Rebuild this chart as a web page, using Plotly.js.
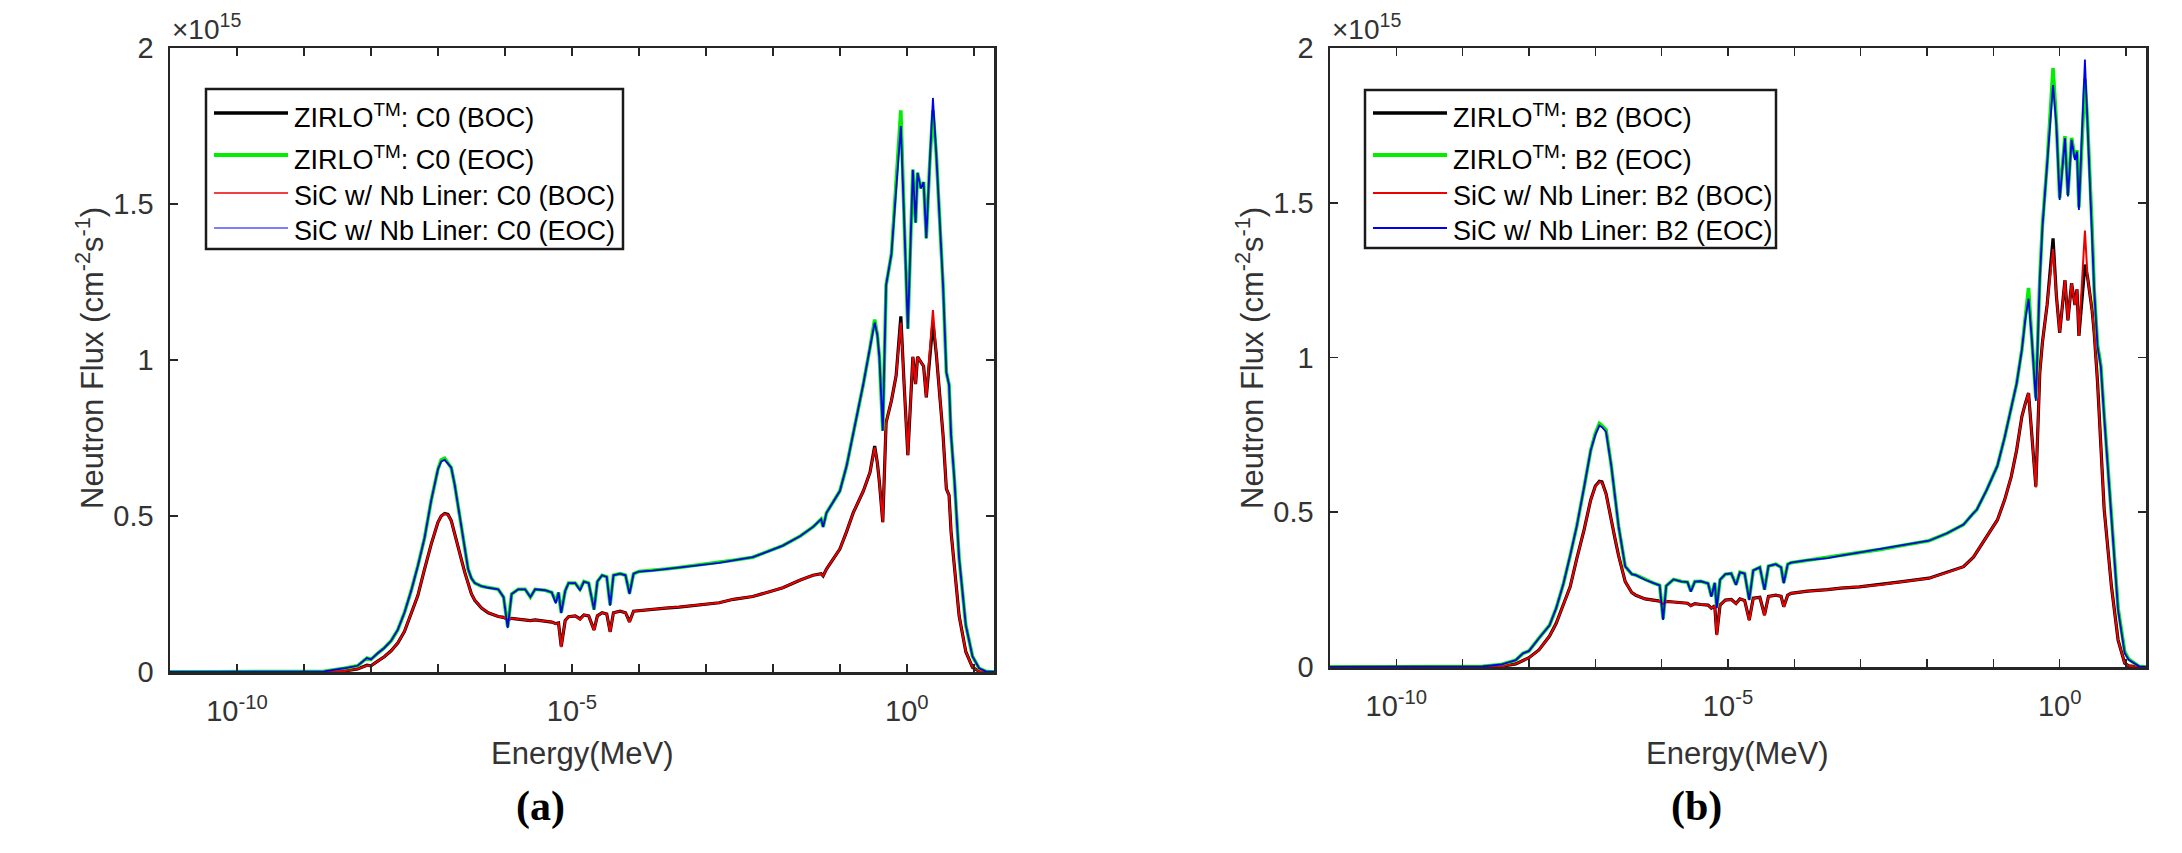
<!DOCTYPE html>
<html>
<head>
<meta charset="utf-8">
<script src="https://cdn.plot.ly/plotly-3.0.1.min.js"></script>
<style>
  html, body { margin: 0; padding: 0; background: #fff; }
  #chart { width: 2182px; height: 853px; }
</style>
</head>
<body>
<div id="chart"></div>
<script>
// Neutron flux spectra, ZIRLO vs SiC cladding with Nb liner, BOC and EOC.
// Flux values are in units of 1e15 cm^-2 s^-1, energies in MeV.

// ---------- Panel (a): assembly C0 ----------
const energyC0 = [
  1e-11, 3.16e-10, 1e-9, 2.0e-9, 3.98e-9, 5.01e-9, 6.31e-9, 8.71e-9, 1.0e-8, 1.26e-8,
  1.58e-8, 2.0e-8, 2.51e-8, 3.16e-8, 3.98e-8, 5.01e-8, 6.31e-8, 7.94e-8, 1.0e-7, 1.12e-7,
  1.26e-7, 1.41e-7, 1.58e-7, 1.78e-7, 2.0e-7, 2.24e-7, 2.51e-7, 2.82e-7, 3.16e-7, 3.55e-7,
  4.47e-7, 5.62e-7, 7.94e-7, 9.55e-7, 1.10e-6, 1.26e-6, 1.58e-6, 2.0e-6, 2.40e-6, 2.82e-6,
  3.98e-6, 5.01e-6, 5.75e-6, 6.31e-6, 6.92e-6, 7.94e-6, 8.91e-6, 1.12e-5, 1.32e-5, 1.51e-5,
  1.78e-5, 2.14e-5, 2.40e-5, 2.82e-5, 3.31e-5, 3.72e-5, 4.17e-5, 5.25e-5, 6.31e-5, 7.24e-5,
  8.32e-5, 1.0e-4, 1.58e-4, 2.51e-4, 3.98e-4, 6.31e-4, 8.71e-4, 1.58e-3, 2.57e-3, 5.01e-3,
  8.13e-3, 1.41e-2, 2.57e-2, 3.98e-2, 5.25e-2, 5.62e-2, 6.31e-2, 0.1, 0.126, 0.158,
  0.224, 0.282, 0.331, 0.363, 0.389, 0.437, 0.490, 0.589, 0.692, 0.813,
  0.912, 1.035, 1.23, 1.35, 1.445, 1.62, 1.78, 1.95, 2.19, 2.45,
  2.75, 3.09, 3.47, 3.89, 4.27, 4.57, 5.13, 6.03, 7.59, 9.55,
  12.0, 15.1, 20.0
];
const zirloBocC0 = [
  0, 0, 0, 0, 0.003, 0.006, 0.01, 0.022, 0.02, 0.035,
  0.049, 0.068, 0.093, 0.13, 0.185, 0.245, 0.33, 0.41, 0.48, 0.50,
  0.508, 0.505, 0.485, 0.445, 0.40, 0.36, 0.32, 0.28, 0.25, 0.23,
  0.205, 0.19, 0.178, 0.175, 0.168, 0.172, 0.17, 0.168, 0.165, 0.167,
  0.163, 0.16, 0.155, 0.157, 0.082, 0.165, 0.177, 0.18, 0.17, 0.183,
  0.18, 0.135, 0.18, 0.19, 0.186, 0.129, 0.19, 0.195, 0.19, 0.161,
  0.195, 0.197, 0.20, 0.205, 0.208, 0.212, 0.215, 0.222, 0.233, 0.242,
  0.255, 0.27, 0.295, 0.31, 0.315, 0.308, 0.33, 0.394, 0.45, 0.51,
  0.58, 0.64, 0.724, 0.67, 0.609, 0.48, 0.80, 0.87, 0.95, 1.14,
  0.92, 0.695, 1.01, 0.923, 1.01, 0.994, 0.98, 0.88, 1.01, 1.12,
  1.02, 0.90, 0.76, 0.587, 0.566, 0.45, 0.337, 0.18, 0.065, 0.015,
  0.002, 0, 0
];
const zirloEocC0 = [
  0, 0, 0, 0.002, 0.012, 0.016, 0.02, 0.045, 0.04, 0.06,
  0.077, 0.10, 0.135, 0.19, 0.26, 0.34, 0.43, 0.55, 0.65, 0.68,
  0.685, 0.67, 0.655, 0.60, 0.53, 0.46, 0.39, 0.33, 0.30, 0.285,
  0.275, 0.27, 0.265, 0.24, 0.145, 0.25, 0.265, 0.265, 0.24, 0.265,
  0.262, 0.255, 0.225, 0.255, 0.19, 0.26, 0.285, 0.285, 0.265, 0.29,
  0.285, 0.20, 0.29, 0.31, 0.305, 0.215, 0.31, 0.315, 0.31, 0.252,
  0.315, 0.322, 0.325, 0.33, 0.335, 0.34, 0.345, 0.35, 0.358, 0.368,
  0.385, 0.405, 0.436, 0.465, 0.49, 0.465, 0.51, 0.58, 0.66, 0.76,
  0.923, 1.04, 1.13, 1.08, 1.01, 0.773, 1.24, 1.34, 1.553, 1.80,
  1.45, 1.10, 1.61, 1.44, 1.60, 1.55, 1.57, 1.39, 1.625, 1.80,
  1.66, 1.45, 1.24, 0.96, 0.92, 0.76, 0.616, 0.365, 0.15, 0.05,
  0.012, 0.002, 0
];
const sicBocC0 = [
  0, 0, 0, 0, 0.003, 0.006, 0.01, 0.021, 0.02, 0.035,
  0.049, 0.068, 0.093, 0.13, 0.185, 0.245, 0.33, 0.41, 0.48, 0.50,
  0.507, 0.504, 0.485, 0.445, 0.40, 0.36, 0.32, 0.28, 0.25, 0.23,
  0.205, 0.19, 0.178, 0.175, 0.166, 0.172, 0.17, 0.168, 0.164, 0.167,
  0.163, 0.16, 0.154, 0.157, 0.08, 0.165, 0.177, 0.18, 0.168, 0.183,
  0.18, 0.134, 0.18, 0.19, 0.186, 0.128, 0.19, 0.195, 0.19, 0.16,
  0.195, 0.197, 0.20, 0.205, 0.208, 0.212, 0.215, 0.222, 0.233, 0.242,
  0.255, 0.27, 0.295, 0.31, 0.315, 0.308, 0.33, 0.394, 0.45, 0.51,
  0.58, 0.64, 0.72, 0.67, 0.609, 0.48, 0.80, 0.87, 0.95, 1.12,
  0.92, 0.695, 1.01, 0.923, 1.01, 0.994, 0.98, 0.88, 1.01, 1.16,
  1.02, 0.90, 0.76, 0.587, 0.566, 0.45, 0.337, 0.18, 0.065, 0.015,
  0.002, 0, 0
];
const sicEocC0 = [
  0, 0, 0, 0.002, 0.012, 0.016, 0.02, 0.045, 0.04, 0.06,
  0.077, 0.10, 0.135, 0.19, 0.26, 0.34, 0.43, 0.55, 0.65, 0.675,
  0.68, 0.668, 0.655, 0.60, 0.53, 0.46, 0.39, 0.33, 0.30, 0.285,
  0.275, 0.27, 0.265, 0.24, 0.141, 0.25, 0.265, 0.265, 0.24, 0.265,
  0.262, 0.255, 0.22, 0.255, 0.189, 0.26, 0.285, 0.285, 0.262, 0.29,
  0.285, 0.20, 0.29, 0.31, 0.305, 0.213, 0.31, 0.315, 0.31, 0.25,
  0.315, 0.322, 0.325, 0.33, 0.335, 0.34, 0.345, 0.35, 0.358, 0.368,
  0.385, 0.405, 0.436, 0.465, 0.49, 0.465, 0.51, 0.58, 0.66, 0.76,
  0.923, 1.04, 1.12, 1.08, 1.01, 0.773, 1.24, 1.34, 1.553, 1.75,
  1.45, 1.10, 1.61, 1.44, 1.60, 1.55, 1.57, 1.39, 1.625, 1.84,
  1.66, 1.45, 1.24, 0.96, 0.92, 0.76, 0.616, 0.365, 0.15, 0.05,
  0.012, 0.002, 0
];

// ---------- Panel (b): assembly B2 ----------
const energyB2 = [
  1e-11, 3.16e-10, 9.12e-10, 2.0e-9, 3.80e-9, 6.31e-9, 8.13e-9, 1.0e-8, 1.41e-8, 2.04e-8,
  2.57e-8, 3.31e-8, 4.17e-8, 5.25e-8, 6.76e-8, 8.51e-8, 1.0e-7, 1.15e-7, 1.26e-7, 1.45e-7,
  1.74e-7, 2.0e-7, 2.24e-7, 2.82e-7, 3.55e-7, 4.07e-7, 5.62e-7, 7.41e-7, 9.33e-7, 1.05e-6,
  1.17e-6, 1.51e-6, 2.0e-6, 2.45e-6, 2.75e-6, 3.16e-6, 3.89e-6, 5.01e-6, 5.62e-6, 6.31e-6,
  6.76e-6, 7.59e-6, 9.12e-6, 1.12e-5, 1.32e-5, 1.51e-5, 1.78e-5, 2.09e-5, 2.40e-5, 3.02e-5,
  3.55e-5, 4.07e-5, 5.25e-5, 6.31e-5, 6.92e-5, 7.94e-5, 8.91e-5, 1.58e-4, 3.16e-4, 5.01e-4,
  9.55e-4, 2.0e-3, 3.98e-3, 1.07e-2, 2.0e-2, 3.55e-2, 5.01e-2, 5.62e-2, 7.94e-2, 0.115,
  0.148, 0.186, 0.224, 0.269, 0.302, 0.339, 0.380, 0.437, 0.501, 0.550,
  0.646, 0.794, 0.891, 1.0, 1.20, 1.33, 1.51, 1.70, 1.82, 1.95,
  2.40, 2.63, 3.09, 3.31, 3.72, 4.17, 4.68, 6.03, 7.59, 9.55,
  11.0, 15.8, 20.0
];
const zirloBocB2 = [
  0, 0, 0, 0, 0.002, 0.01, 0.022, 0.03, 0.055, 0.10,
  0.141, 0.205, 0.259, 0.35, 0.443, 0.54, 0.585, 0.60, 0.598, 0.56,
  0.47, 0.41, 0.36, 0.276, 0.24, 0.232, 0.22, 0.216, 0.213, 0.205,
  0.212, 0.21, 0.208, 0.206, 0.198, 0.205, 0.202, 0.20, 0.19, 0.198,
  0.105, 0.20, 0.216, 0.218, 0.205, 0.22, 0.215, 0.152, 0.222, 0.225,
  0.168, 0.228, 0.232, 0.228, 0.195, 0.232, 0.238, 0.245, 0.25, 0.255,
  0.259, 0.266, 0.275, 0.287, 0.305, 0.324, 0.355, 0.372, 0.42, 0.475,
  0.54, 0.615, 0.70, 0.809, 0.85, 0.885, 0.75, 0.583, 0.95, 1.05,
  1.17, 1.385, 1.20, 1.08, 1.25, 1.12, 1.24, 1.17, 1.22, 1.07,
  1.30, 1.26, 1.15, 1.08, 0.92, 0.70, 0.51, 0.26, 0.087, 0.012,
  0.004, 0, 0
];
const zirloEocB2 = [
  0, 0, 0, 0.002, 0.008, 0.022, 0.044, 0.052, 0.093, 0.135,
  0.19, 0.27, 0.36, 0.455, 0.58, 0.70, 0.755, 0.787, 0.78, 0.766,
  0.65, 0.55, 0.455, 0.325, 0.30, 0.297, 0.282, 0.272, 0.264, 0.155,
  0.262, 0.283, 0.276, 0.274, 0.245, 0.276, 0.277, 0.27, 0.228, 0.272,
  0.192, 0.282, 0.30, 0.302, 0.266, 0.306, 0.302, 0.218, 0.312, 0.322,
  0.25, 0.326, 0.332, 0.322, 0.272, 0.332, 0.337, 0.345, 0.352, 0.36,
  0.37, 0.38, 0.392, 0.408, 0.432, 0.46, 0.497, 0.508, 0.572, 0.65,
  0.742, 0.843, 0.915, 1.025, 1.125, 1.225, 1.06, 0.87, 1.255, 1.43,
  1.625, 1.935, 1.76, 1.515, 1.715, 1.525, 1.71, 1.645, 1.67, 1.485,
  1.90, 1.76, 1.41, 1.22, 1.04, 0.975, 0.815, 0.49, 0.19, 0.05,
  0.025, 0.002, 0
];
const sicBocB2 = [
  0, 0, 0, 0, 0.002, 0.01, 0.022, 0.03, 0.055, 0.10,
  0.141, 0.205, 0.259, 0.35, 0.443, 0.54, 0.583, 0.598, 0.596, 0.558,
  0.47, 0.41, 0.36, 0.276, 0.24, 0.232, 0.22, 0.216, 0.213, 0.203,
  0.212, 0.21, 0.208, 0.206, 0.197, 0.205, 0.202, 0.20, 0.189, 0.198,
  0.103, 0.20, 0.216, 0.218, 0.204, 0.22, 0.215, 0.15, 0.222, 0.225,
  0.166, 0.228, 0.232, 0.228, 0.194, 0.232, 0.238, 0.245, 0.25, 0.255,
  0.259, 0.266, 0.275, 0.287, 0.305, 0.324, 0.355, 0.372, 0.42, 0.475,
  0.54, 0.615, 0.70, 0.809, 0.85, 0.885, 0.75, 0.58, 0.95, 1.05,
  1.17, 1.35, 1.20, 1.08, 1.25, 1.12, 1.24, 1.17, 1.22, 1.07,
  1.41, 1.26, 1.15, 1.08, 0.92, 0.70, 0.51, 0.26, 0.087, 0.012,
  0.004, 0, 0
];
const sicEocB2 = [
  0, 0, 0, 0.002, 0.008, 0.022, 0.044, 0.052, 0.093, 0.135,
  0.19, 0.27, 0.36, 0.455, 0.58, 0.70, 0.75, 0.78, 0.775, 0.76,
  0.65, 0.55, 0.455, 0.325, 0.30, 0.297, 0.282, 0.272, 0.264, 0.152,
  0.262, 0.283, 0.276, 0.274, 0.243, 0.276, 0.277, 0.27, 0.227, 0.272,
  0.19, 0.282, 0.30, 0.302, 0.265, 0.306, 0.302, 0.216, 0.312, 0.322,
  0.249, 0.326, 0.332, 0.322, 0.27, 0.332, 0.337, 0.345, 0.352, 0.36,
  0.37, 0.38, 0.392, 0.408, 0.432, 0.46, 0.497, 0.508, 0.572, 0.65,
  0.742, 0.843, 0.915, 1.025, 1.12, 1.19, 1.06, 0.86, 1.25, 1.423,
  1.616, 1.88, 1.75, 1.509, 1.708, 1.52, 1.703, 1.638, 1.665, 1.477,
  1.963, 1.757, 1.40, 1.22, 1.035, 0.97, 0.809, 0.486, 0.184, 0.045,
  0.023, 0.002, 0
];

// Legend labels and axis tick labels
const legendC0 = [
  'ZIRLO<sup>TM</sup>: C0 (BOC)',
  'ZIRLO<sup>TM</sup>: C0 (EOC)',
  'SiC w/ Nb Liner: C0 (BOC)',
  'SiC w/ Nb Liner: C0 (EOC)'
];
const legendB2 = [
  'ZIRLO<sup>TM</sup>: B2 (BOC)',
  'ZIRLO<sup>TM</sup>: B2 (EOC)',
  'SiC w/ Nb Liner: B2 (BOC)',
  'SiC w/ Nb Liner: B2 (EOC)'
];
const xLabelVals = [1e-10, 1e-5, 1];
const xLabelText = ['10<sup>-10</sup>', '10<sup>-5</sup>', '10<sup>0</sup>'];
const xDecadeVals = [1e-10, 1e-9, 1e-8, 1e-7, 1e-6, 1e-5, 1e-4, 1e-3, 1e-2, 1e-1, 1, 10];
const yTickVals = [0, 0.5, 1, 1.5, 2];
const yTickText = ['0', '0.5', '1', '1.5', '2'];
const panelLabels = ['(a)', '(b)'];
const xTitle = 'Energy(MeV)';
const yTitle = 'Neutron Flux (cm<sup>-2</sup>s<sup>-1</sup>)';
const exponentLabel = '×10<sup>15</sup>';

// ---------- Styling ----------
const W = 2182, H = 853;
const fx = p => p / W;          // pixel -> paper x
const fy = p => 1 - p / H;      // pixel -> paper y
const SANS = '"Liberation Sans", Arial, Helvetica, sans-serif';
const AXIS_COLOR = '#262626';
const TEXT_COLOR = '#333333';

const seriesStyle = [
  { color: '#000000', width: 3.2 },
  { color: '#00ee00', width: 3.6 },
  { color: '#ee0000', width: 2.0 },
  { color: '#0000ee', width: 1.8 }
];
const legendWidthsA = [3.6, 4.0, 1.6, 1.2];
const legendWidthsB = [3.6, 4.0, 2.0, 2.0];

// Plot-area boxes in pixels
const panels = [
  { left: 170, right: 994, top: 48, bottom: 672, xa: 'x', ya: 'y',
    energy: energyC0, series: [zirloBocC0, zirloEocC0, sicBocC0, sicEocC0], names: legendC0,
    legend: { left: 206, right: 623, top: 89, bottom: 249 }, legendWidths: legendWidthsA },
  { left: 1330, right: 2146, top: 48, bottom: 667, xa: 'x2', ya: 'y2',
    energy: energyB2, series: [zirloBocB2, zirloEocB2, sicBocB2, sicEocB2], names: legendB2,
    legend: { left: 1365, right: 1776, top: 90, bottom: 248 }, legendWidths: legendWidthsB }
];

const traces = [];
const shapes = [];
const annotations = [];
const layout = {
  width: W, height: H,
  margin: { l: 0, r: 0, t: 0, b: 0, pad: 0 },
  paper_bgcolor: '#ffffff',
  plot_bgcolor: '#ffffff',
  showlegend: false,
  font: { family: SANS, color: TEXT_COLOR }
};

const legendRowsY = [113, 155, 193, 228];

panels.forEach((p, i) => {
  p.series.forEach((vals, k) => {
    traces.push({
      type: 'scatter', mode: 'lines',
      x: p.energy, y: vals, name: p.names[k],
      xaxis: p.xa, yaxis: p.ya,
      line: { color: seriesStyle[k].color, width: seriesStyle[k].width },
      hoverinfo: 'skip'
    });
  });

  const xKey = i === 0 ? 'xaxis' : 'xaxis2';
  const yKey = i === 0 ? 'yaxis' : 'yaxis2';
  layout[xKey] = {
    domain: [fx(p.left), fx(p.right)],
    anchor: p.ya,
    type: 'log',
    range: [-11, Math.log10(20)],
    tickmode: 'array', tickvals: xLabelVals, ticktext: xLabelText,
    ticks: 'inside', ticklen: 8, tickwidth: 1.6, tickcolor: AXIS_COLOR,
    minor: {
      tickmode: 'array', tickvals: xDecadeVals,
      ticks: 'inside', ticklen: 8, tickwidth: 1.6, tickcolor: AXIS_COLOR, showgrid: false
    },
    showline: true, linecolor: AXIS_COLOR, linewidth: 2.5, mirror: 'ticks',
    showgrid: false, zeroline: false,
    tickfont: { family: SANS, size: 29, color: TEXT_COLOR },
    ticklabelstandoff: 12
  };
  layout[yKey] = {
    domain: [fy(p.bottom), fy(p.top)],
    anchor: p.xa,
    range: [0, 2],
    tickmode: 'array', tickvals: yTickVals, ticktext: yTickText,
    ticks: 'inside', ticklen: 8, tickwidth: 1.6, tickcolor: AXIS_COLOR,
    showline: true, linecolor: AXIS_COLOR, linewidth: 2.5, mirror: 'ticks',
    showgrid: false, zeroline: false,
    tickfont: { family: SANS, size: 29, color: TEXT_COLOR },
    ticklabelstandoff: 8
  };

  const cx = (p.left + p.right) / 2;
  // axis titles
  annotations.push({
    xref: 'paper', yref: 'paper', x: fx(cx), y: fy(753),
    xanchor: 'center', yanchor: 'middle', showarrow: false,
    text: xTitle, font: { family: SANS, size: 31, color: TEXT_COLOR }
  });
  annotations.push({
    xref: 'paper', yref: 'paper', x: fx(p.left - 80), y: fy(358),
    xanchor: 'center', yanchor: 'middle', showarrow: false, textangle: -90,
    text: yTitle, font: { family: SANS, size: 31, color: TEXT_COLOR }
  });
  // exponent label
  annotations.push({
    xref: 'paper', yref: 'paper', x: fx(p.left), y: fy(27),
    xanchor: 'left', yanchor: 'middle', showarrow: false,
    text: exponentLabel, font: { family: SANS, size: 28, color: TEXT_COLOR }
  });
  // panel letter
  annotations.push({
    xref: 'paper', yref: 'paper', x: fx(cx - 42), y: fy(806),
    xanchor: 'center', yanchor: 'middle', showarrow: false,
    text: '<b>' + panelLabels[i] + '</b>',
    font: { family: '"Liberation Serif", "DejaVu Serif", serif', size: 42, color: '#000000' }
  });

  // legend box
  const L = p.legend;
  shapes.push({
    type: 'rect', xref: 'paper', yref: 'paper',
    x0: fx(L.left), x1: fx(L.right), y0: fy(L.bottom), y1: fy(L.top),
    line: { color: '#1a1a1a', width: 2.5 }, fillcolor: '#ffffff', layer: 'above'
  });
  legendRowsY.forEach((ry, k) => {
    shapes.push({
      type: 'line', xref: 'paper', yref: 'paper',
      x0: fx(L.left + 8), x1: fx(L.left + 82), y0: fy(ry), y1: fy(ry),
      line: { color: seriesStyle[k].color, width: p.legendWidths[k] }, layer: 'above'
    });
    annotations.push({
      xref: 'paper', yref: 'paper', x: fx(L.left + 86), y: fy(ry + 3),
      xanchor: 'left', yanchor: 'middle', showarrow: false,
      text: p.names[k], font: { family: SANS, size: 27, color: '#000000' }
    });
  });
});

layout.shapes = shapes;
layout.annotations = annotations;

Plotly.newPlot('chart', traces, layout, { staticPlot: true, displayModeBar: false });
</script>
</body>
</html>
